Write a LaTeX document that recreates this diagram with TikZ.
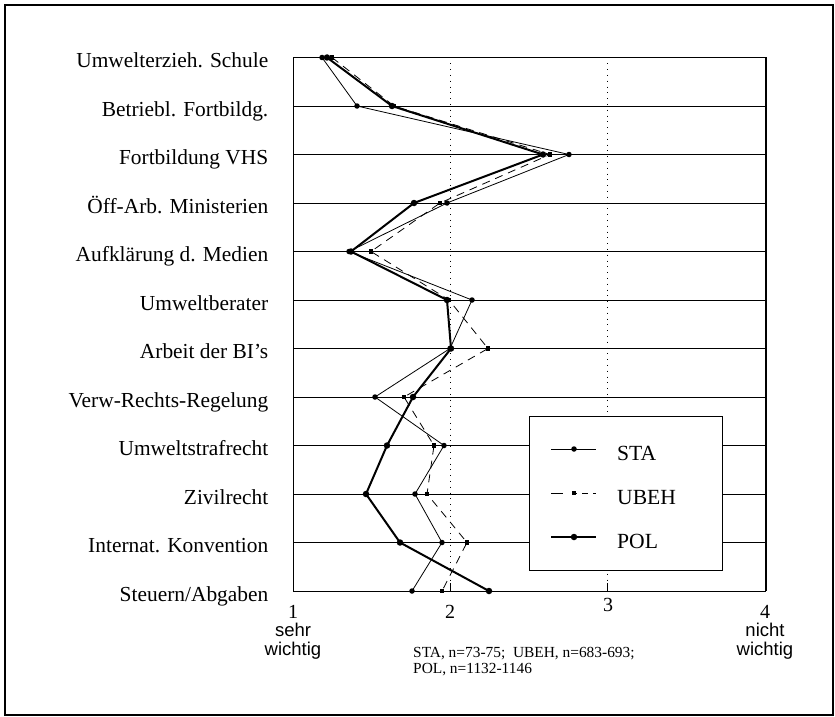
\documentclass[tikz,border=0pt]{standalone}
\usepackage{fontspec}
\setmainfont{Liberation Serif}
\newfontfamily\axsans{Liberation Sans}
\begin{document}
\begin{tikzpicture}[x=1pt,y=-1pt,
  rowlab/.style={anchor=base east,inner sep=0pt,font=\fontsize{21.4}{24}\selectfont},
  ticklab/.style={anchor=base,inner sep=0pt,font=\fontsize{20}{24}\selectfont},
  endlab/.style={anchor=north,inner sep=0pt,align=center,font=\axsans\fontsize{18.5}{18.5}\selectfont},
  footlab/.style={anchor=north west,inner sep=0pt,align=left,font=\fontsize{15.4}{15.5}\selectfont},
  leglab/.style={anchor=base west,inner sep=0pt,font=\fontsize{21.6}{24}\selectfont},
  gridline/.style={line width=0.9pt},
  guide/.style={line width=0.7pt,dash pattern=on 0.8pt off 5pt},
  staline/.style={line width=0.8pt,line join=round},
  ubehline/.style={line width=0.8pt,dash pattern=on 8pt off 6pt},
  polline/.style={line width=2pt,line join=round},
  stamark/.style={circle,fill,inner sep=0pt,minimum size=5.5pt},
  ubehmark/.style={rectangle,fill,inner sep=0pt,minimum size=4.5pt},
  polmark/.style={circle,fill,inner sep=0pt,minimum size=6.5pt},
]
\useasboundingbox (0,0) rectangle (835,717);
\draw[line width=1.3pt] (5,5) rectangle (833,715);

% horizontal row lines and row labels
\foreach \i/\t in {1/{Umwelterzieh. Schule},2/{Betriebl. Fortbildg.},3/{Fortbildung VHS},
  4/{Öff-Arb. Ministerien},5/{Aufklärung d. Medien},6/{Umweltberater},
  7/{Arbeit der BI’s},8/{Verw-Rechts-Regelung},9/{Umweltstrafrecht},
  10/{Zivilrecht},11/{Internat. Konvention},12/{Steuern/Abgaben}} {
  \coordinate (L\i) at (293,{57.5+(\i-1)*48.5});
  \coordinate (R\i) at (766,{57.5+(\i-1)*48.5});
  \draw[gridline] (L\i) -- (R\i);
  \node[rowlab] (lab\i) at (268.5,{67.5+(\i-1)*48.5}) {\t};
}
\draw[gridline] (L1) -- (L12);
\draw[line width=1.3pt] (R1) -- (R12);

% dotted guides at 2 and 3, with ticks on the bottom line
\coordinate (g2t) at (450,57.5); \coordinate (g2b) at (450,591);
\coordinate (g3t) at (607,57.5); \coordinate (g3b) at (607,591);
\draw[guide] (g2t) -- (g2b);
\draw[guide] (g3t) -- (g3b);
\draw[gridline] (g2b) -- ++(0,-8);
\draw[gridline] (g3b) -- ++(0,-8);

% legend
\node[draw,fill=white,line width=1pt,minimum width=193pt,minimum height=154pt,
  anchor=north west,inner sep=0pt] (legend) at (529,416) {};
\coordinate (k1a) at (551,449); \coordinate (k1b) at (596,449);
\coordinate (k2a) at (551,493); \coordinate (k2b) at (596,493);
\coordinate (k3a) at (551,537); \coordinate (k3b) at (596,537);
\draw[staline] (k1a) -- (k1b);
\draw[line width=0.8pt,dash pattern=on 12pt off 9pt on 5pt off 5pt on 6pt off 5pt] (k2a) -- (k2b);
\draw[polline] (k3a) -- (k3b);
\node[stamark] (km1) at (574,449) {};
\node[ubehmark] (km2) at (574,493) {};
\node[polmark] (km3) at (574,537) {};
\node[leglab] (kt1) at (617,460) {STA};
\node[leglab] (kt2) at (617,504) {UBEH};
\node[leglab] (kt3) at (617,548) {POL};

% data points (x in picture units)
\foreach \i/\s/\u/\p in {1/322/332/327,2/357/394/392,3/569/550/543,4/447/440/414,
  5/349/371/351,6/472/449/447,7/450/488/451,8/375/404/413,9/444/434/387,
  10/415/427/366,11/442/467/400,12/412/442/489} {
  \coordinate (s\i) at (\s,{57.5+(\i-1)*48.5});
  \coordinate (u\i) at (\u,{57.5+(\i-1)*48.5});
  \coordinate (p\i) at (\p,{57.5+(\i-1)*48.5});
}
\draw[staline] (s1) \foreach \i in {2,...,12} { -- (s\i) };
\draw[ubehline] (u1) \foreach \i in {2,...,12} { -- (u\i) };
\draw[polline] (p1) \foreach \i in {2,...,12} { -- (p\i) };
\foreach \i in {1,...,12} {
  \node[stamark] (sm\i) at (s\i) {};
  \node[ubehmark] (um\i) at (u\i) {};
  \node[polmark] (pm\i) at (p\i) {};
}

% scale labels
\node[ticklab] (t1) at (293,618) {1};
\node[ticklab] (t2) at (450,618) {2};
\node[ticklab] (t3) at (608,611) {3};
\node[ticklab] (t4) at (765,618) {4};
\node[endlab] (e1) at (293,623) {sehr\\wichtig};
\node[endlab] (e4) at (765,623) {nicht\\wichtig};

% sample sizes
\node[footlab] (n1) at (413,647.5) {STA, n=73-75;\hspace{0.5em}UBEH, n=683-693;\\POL, n=1132-1146};
\end{tikzpicture}
\end{document}
